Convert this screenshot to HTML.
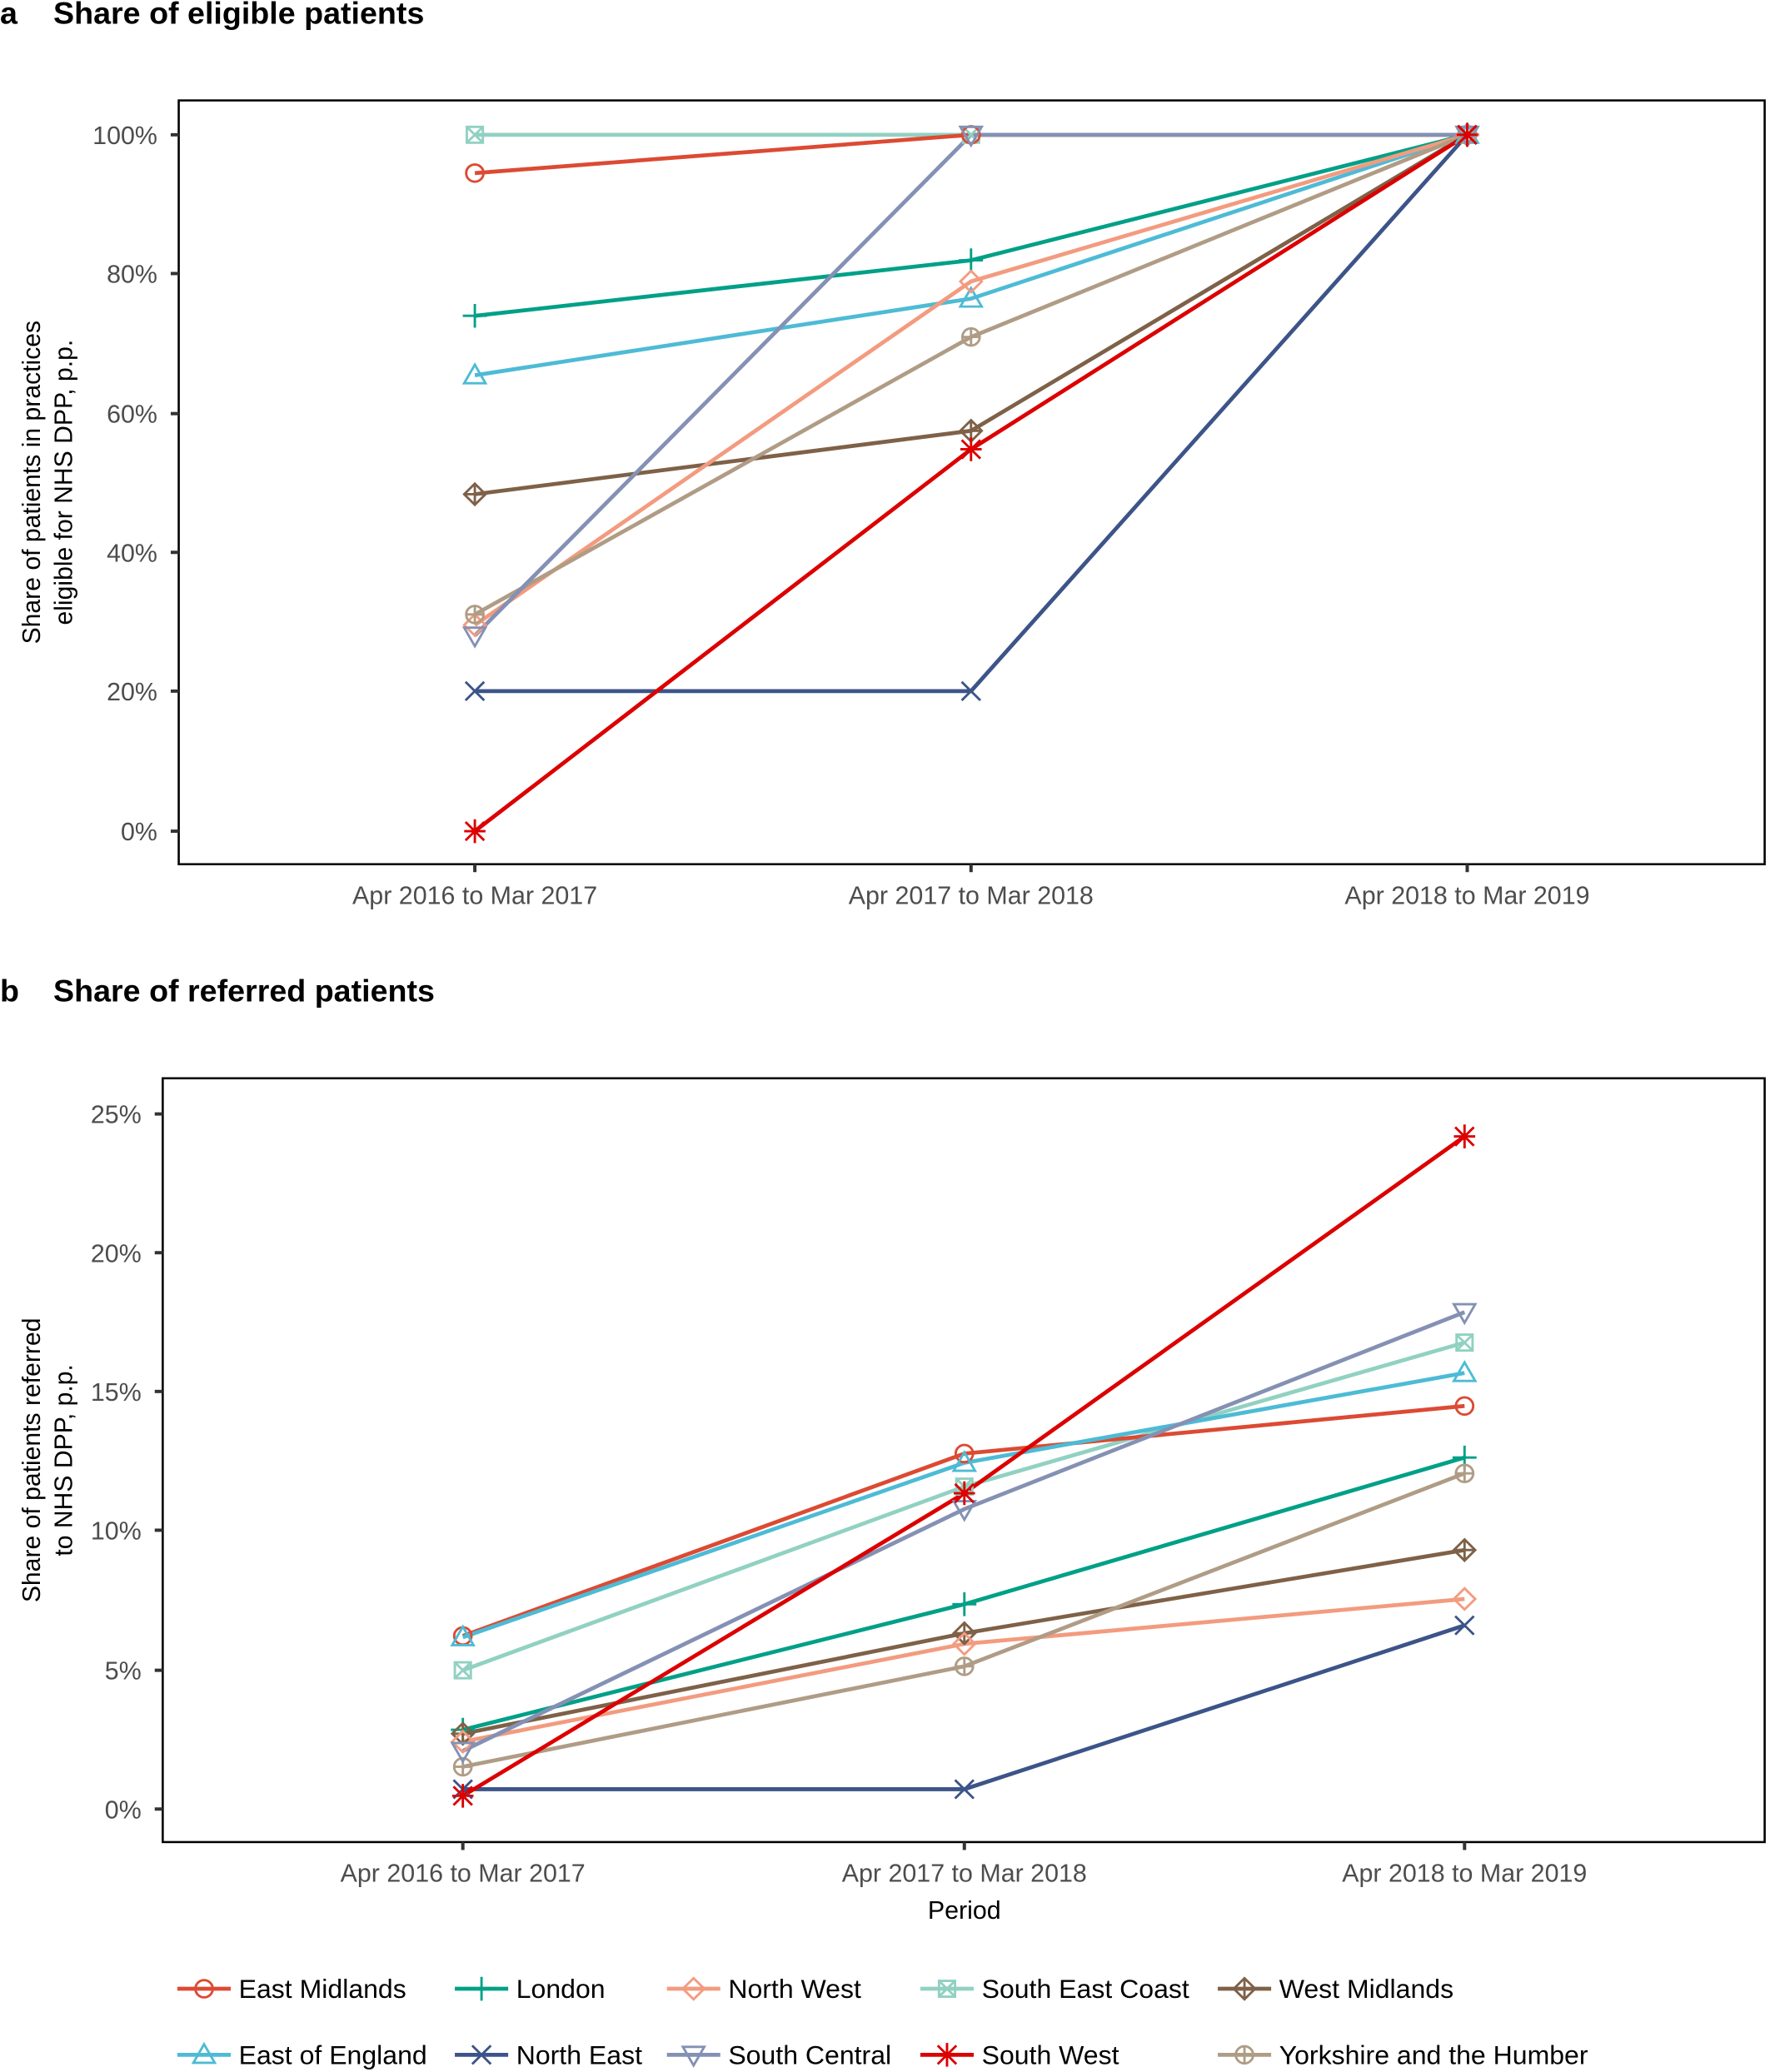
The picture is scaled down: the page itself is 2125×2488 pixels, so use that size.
<!DOCTYPE html>
<html><head><meta charset="utf-8"><style>
html,body{margin:0;padding:0;background:#fff;}
svg{display:block;}
text{font-family:"Liberation Sans",Arial,sans-serif;}
.tk{fill:#4d4d4d;font-size:19px;}
.lg{fill:#000;font-size:20px;}
.ttl{fill:#000;font-size:23.5px;font-weight:bold;}
.ax{fill:#000;font-size:19px;}
</style></head><body>
<svg id="s" width="2125" height="2488" viewBox="0 0 1327 1568" preserveAspectRatio="none" xmlns="http://www.w3.org/2000/svg">
<rect width="1327" height="1568" fill="#fff"/>
<text class="ttl" x="0" y="18">a</text>
<text class="ttl" x="40" y="18">Share of eligible patients</text>
<text class="ttl" x="0" y="758">b</text>
<text class="ttl" x="40" y="758">Share of referred patients</text>

<rect x="134" y="76" width="1189" height="578" fill="none" stroke="#000" stroke-width="1.6"/>
<rect x="122" y="816" width="1201" height="578" fill="none" stroke="#000" stroke-width="1.6"/>

<g class="tk" text-anchor="end">
<text x="118" y="109">100%</text><text x="118" y="214">80%</text><text x="118" y="320">60%</text>
<text x="118" y="425">40%</text><text x="118" y="530">20%</text><text x="118" y="636">0%</text>
<text x="106" y="850">25%</text><text x="106" y="955">20%</text><text x="106" y="1060">15%</text>
<text x="106" y="1165">10%</text><text x="106" y="1271">5%</text><text x="106" y="1376">0%</text>
</g>
<g class="tk" text-anchor="middle">
<text x="356" y="684">Apr 2016 to Mar 2017</text><text x="728" y="684">Apr 2017 to Mar 2018</text><text x="1100" y="684">Apr 2018 to Mar 2019</text>
<text x="347" y="1424">Apr 2016 to Mar 2017</text><text x="723" y="1424">Apr 2017 to Mar 2018</text><text x="1098" y="1424">Apr 2018 to Mar 2019</text>
</g>
<text class="ax" x="723" y="1452" text-anchor="middle">Period</text>
<g class="ax" text-anchor="middle">
<text transform="translate(30,365) rotate(-90)">Share of patients in practices</text>
<text transform="translate(54,365) rotate(-90)">eligible for NHS DPP, p.p.</text>
<text transform="translate(30,1105) rotate(-90)">Share of patients referred</text>
<text transform="translate(54,1105) rotate(-90)">to NHS DPP, p.p.</text>
</g>
<g id="ticks" stroke="#333" stroke-width="2.5"></g>
<g id="plot"></g>
<g class="lg">
<text x="179" y="1512">East Midlands</text><text x="387" y="1512">London</text><text x="546" y="1512">North West</text><text x="736" y="1512">South East Coast</text><text x="959" y="1512">West Midlands</text>
<text x="179" y="1562">East of England</text><text x="387" y="1562">North East</text><text x="546" y="1562">South Central</text><text x="736" y="1562">South West</text><text x="959" y="1562">Yorkshire and the Humber</text>
</g>
</svg>
<script>
var NS="http://www.w3.org/2000/svg";
function el(p,t,a){var e=document.createElementNS(NS,t);for(var k in a)e.setAttribute(k,a[k]);p.appendChild(e);return e;}
var tg=document.getElementById('ticks');
[102,207,313,418,523,629].forEach(function(y){el(tg,'line',{x1:128,x2:134,y1:y,y2:y});});
[843,948,1053,1158,1264,1369].forEach(function(y){el(tg,'line',{x1:116,x2:122,y1:y,y2:y});});
[356,728,1100].forEach(function(x){el(tg,'line',{x1:x,x2:x,y1:654,y2:660});});
[347,723,1098].forEach(function(x){el(tg,'line',{x1:x,x2:x,y1:1394,y2:1400});});
var S=[
 {c:'#91D1C2',m:'sqx',a:[102,102,102],b:[1264,1125,1016]},
 {c:'#DC4A33',m:'circ',a:[131,102,102],b:[1238,1100,1064]},
 {c:'#00A087',m:'plus',a:[239,197,102],b:[1309,1214,1103]},
 {c:'#4DBBD5',m:'tri',a:[284,226,102],b:[1239,1107,1039]},
 {c:'#7E6148',m:'dplus',a:[374,326,102],b:[1312,1236,1173]},
 {c:'#F39B7F',m:'dia',a:[473,213,102],b:[1318,1244,1210]},
 {c:'#B09C85',m:'cplus',a:[465,255,102],b:[1337,1261,1115]},
 {c:'#8491B4',m:'dtri',a:[481,102,102],b:[1325,1142,993]},
 {c:'#3C5488',m:'x',a:[523,523,102],b:[1354,1354,1230]},
 {c:'#DC0000',m:'ast',a:[629,340,102],b:[1359,1130,860]}
];
var g=document.getElementById('plot');
function mk(x,y,m,c){var a={fill:'none',stroke:c,'stroke-width':1.8};var r=6.5;
 if(m=='circ'){a.cx=x;a.cy=y;a.r=r;el(g,'circle',a);}
 else if(m=='cplus'){a.cx=x;a.cy=y;a.r=r;el(g,'circle',a);a={fill:'none',stroke:c,'stroke-width':1.8,d:'M'+(x-r)+' '+y+'H'+(x+r)+'M'+x+' '+(y-r)+'V'+(y+r)};el(g,'path',a);}
 else if(m=='plus'){a.d='M'+(x-9)+' '+y+'H'+(x+9)+'M'+x+' '+(y-9)+'V'+(y+9);el(g,'path',a);}
 else if(m=='x'){a.d='M'+(x-7)+' '+(y-7)+'L'+(x+7)+' '+(y+7)+'M'+(x-7)+' '+(y+7)+'L'+(x+7)+' '+(y-7);el(g,'path',a);}
 else if(m=='ast'){a.d='M'+(x-8)+' '+y+'H'+(x+8)+'M'+x+' '+(y-9)+'V'+(y+9)+'M'+(x-7)+' '+(y-7)+'L'+(x+7)+' '+(y+7)+'M'+(x-7)+' '+(y+7)+'L'+(x+7)+' '+(y-7);el(g,'path',a);}
 else if(m=='tri'){a.d='M'+x+' '+(y-8)+'L'+(x+8)+' '+(y+6)+'L'+(x-8)+' '+(y+6)+'Z';el(g,'path',a);}
 else if(m=='dtri'){a.d='M'+x+' '+(y+8)+'L'+(x+8)+' '+(y-6)+'L'+(x-8)+' '+(y-6)+'Z';el(g,'path',a);}
 else if(m=='dia'){a.d='M'+x+' '+(y-8)+'L'+(x+8)+' '+y+'L'+x+' '+(y+8)+'L'+(x-8)+' '+y+'Z';el(g,'path',a);}
 else if(m=='dplus'){a.d='M'+x+' '+(y-8)+'L'+(x+8)+' '+y+'L'+x+' '+(y+8)+'L'+(x-8)+' '+y+'Z M'+(x-8)+' '+y+'H'+(x+8)+'M'+x+' '+(y-8)+'V'+(y+8);el(g,'path',a);}
 else if(m=='sqx'){a.d='M'+(x-6)+' '+(y-6)+'H'+(x+6)+'V'+(y+6)+'H'+(x-6)+'Z M'+(x-6)+' '+(y-6)+'L'+(x+6)+' '+(y+6)+'M'+(x-6)+' '+(y+6)+'L'+(x+6)+' '+(y-6);el(g,'path',a);}
}
var XA=[356,728,1100],XB=[347,723,1098];
S.forEach(function(s){
 el(g,'polyline',{points:XA.map(function(x,i){return x+','+s.a[i];}).join(' '),fill:'none',stroke:s.c,'stroke-width':3});
 el(g,'polyline',{points:XB.map(function(x,i){return x+','+s.b[i];}).join(' '),fill:'none',stroke:s.c,'stroke-width':3});
});
S.forEach(function(s){XA.forEach(function(x,i){mk(x,s.a[i],s.m,s.c);});XB.forEach(function(x,i){mk(x,s.b[i],s.m,s.c);});});
var L=[['circ','#DC4A33',133,1505],['plus','#00A087',341,1505],['dia','#F39B7F',500,1505],['sqx','#91D1C2',690,1505],['dplus','#7E6148',913,1505],
['tri','#4DBBD5',133,1555],['x','#3C5488',341,1555],['dtri','#8491B4',500,1555],['ast','#DC0000',690,1555],['cplus','#B09C85',913,1555]];
L.forEach(function(l){el(g,'line',{x1:l[2],x2:l[2]+40,y1:l[3],y2:l[3],stroke:l[1],'stroke-width':3});mk(l[2]+20,l[3],l[0],l[1]);});
</script>
</body></html>
